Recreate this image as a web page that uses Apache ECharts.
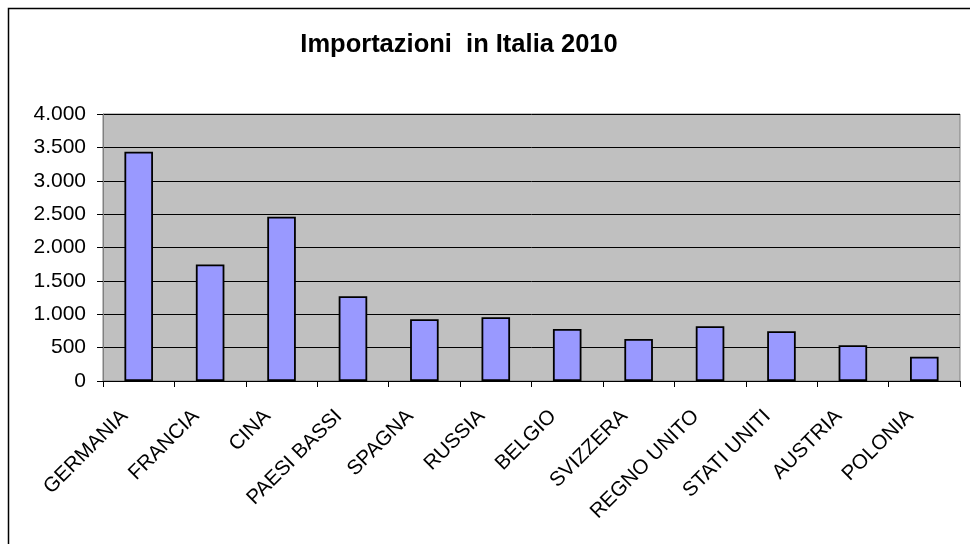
<!DOCTYPE html>
<html>
<head>
<meta charset="utf-8">
<script src="https://cdn.jsdelivr.net/npm/echarts@6/dist/echarts.min.js"></script>
<style>
html,body{margin:0;padding:0;background:#fff;}
#chart{width:970px;height:544px;}
</style>
</head>
<body>
<div id="chart"></div>
<script>
const titleText = 'Importazioni  in Italia 2010';
const categories = ['GERMANIA','FRANCIA','CINA','PAESI BASSI','SPAGNA','RUSSIA','BELGIO','SVIZZERA','REGNO UNITO','STATI UNITI','AUSTRIA','POLONIA'];
const values = [3435, 1745, 2460, 1270, 925, 955, 780, 630, 820, 745, 535, 365];
const yMin = 0, yMax = 4000, yStep = 500;

function fmt(v){
  return String(v).replace(/\B(?=(\d{3})+(?!\d))/g, '.');
}

const chart = echarts.init(document.getElementById('chart'), null, {renderer:'canvas'});
chart.setOption({
  animation:false,
  backgroundColor:'#ffffff',
  textStyle:{fontFamily:'"Liberation Sans", Arial, sans-serif'},
  title:{
    text:titleText,
    left:454, top:27, textAlign:'center',
    textStyle:{fontFamily:'"Liberation Sans", Arial, sans-serif', fontSize:25.5, fontWeight:'bold', color:'#000'}
  },
  graphic:[{
    type:'rect',
    shape:{x:8.5, y:8.5, width:1000, height:1000},
    style:{fill:'none', stroke:'#000', lineWidth:1.5},
    silent:true, z:-1
  }],
  grid:{
    left:103, right:10, top:114, bottom:163,
    show:true, backgroundColor:'#C0C0C0', borderColor:'#808080', borderWidth:1
  },
  xAxis:{
    type:'category',
    data:categories,
    boundaryGap:true,
    axisLine:{show:true, lineStyle:{color:'#000', width:1}},
    axisTick:{show:true, length:6, lineStyle:{color:'#000'}},
    axisLabel:{rotate:45, margin:18, fontSize:20.5, color:'#000', interval:0,
      padding:[0, 20, 0, 0],
      fontFamily:'"Liberation Sans", Arial, sans-serif'},
    splitLine:{show:false}
  },
  yAxis:{
    type:'value',
    min:yMin, max:yMax, interval:yStep,
    axisLine:{show:true, lineStyle:{color:'#808080', width:1}},
    axisTick:{show:true, length:6, lineStyle:{color:'#000'}},
    axisLabel:{fontSize:21, color:'#000', margin:17, formatter:fmt,
      fontFamily:'"Liberation Sans", Arial, sans-serif'},
    splitLine:{show:true, lineStyle:{color:'#000', width:1}}
  },
  series:[{
    type:'bar',
    data:values,
    barCategoryGap:'60%',
    itemStyle:{color:'#9999FF', borderColor:'#000', borderWidth:1.8}
  }]
});
</script>
</body>
</html>
